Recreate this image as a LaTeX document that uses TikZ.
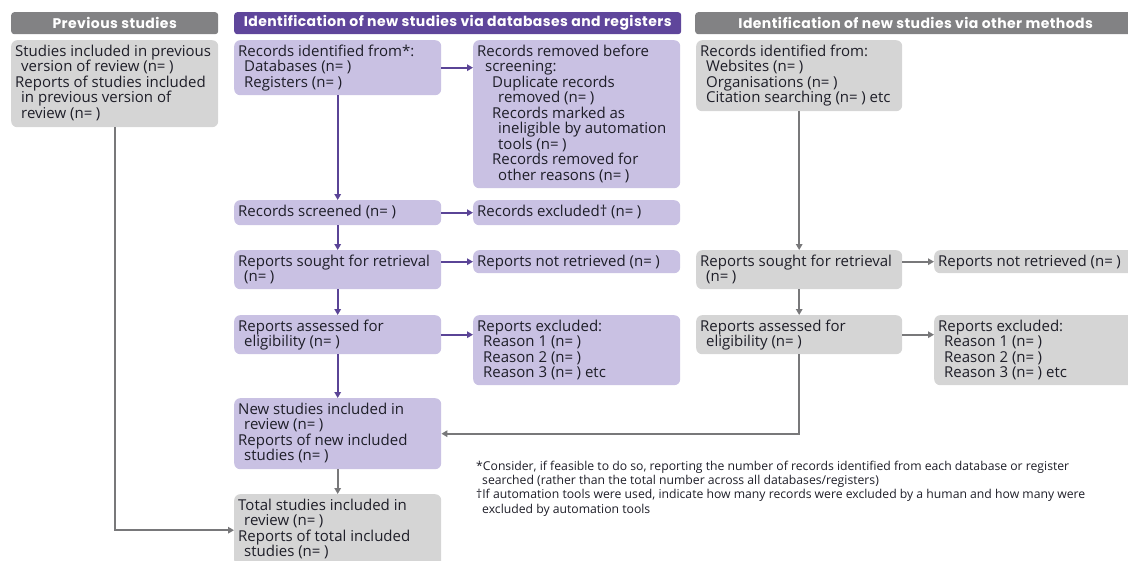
\documentclass[tikz,border=0pt]{standalone}
\usepackage{fontspec}
\setmainfont{Open Sans}
\newfontfamily\hdfont[LetterSpace=3]{Poppins}
\usetikzlibrary{arrows.meta}
\definecolor{headpurple}{RGB}{95,70,155}
\definecolor{headgray}{RGB}{130,130,132}
\definecolor{boxpurple}{RGB}{201,193,227}
\definecolor{boxgray}{RGB}{213,213,213}
\definecolor{txt}{RGB}{30,30,40}
\definecolor{arrpurple}{RGB}{90,68,150}
\definecolor{arrgray}{RGB}{120,120,122}
\newcommand\tb[3]{\parbox[t][#2pt][t]{#1pt}{\raggedright\fontsize{15}{15.5}\selectfont\vspace*{1.5pt}#3}}
\newcommand\ind[1]{\hspace*{#1pt}}
\newcommand\nn{(n=\hspace{3.5pt})}
\tikzset{
  pbox/.style={fill=boxpurple, rounded corners=6pt, inner xsep=4pt, inner ysep=3pt, anchor=north west, text=txt},
  gbox/.style={fill=boxgray, rounded corners=6pt, inner xsep=4pt, inner ysep=3pt, anchor=north west, text=txt},
  headp/.style={fill=headpurple, rounded corners=3pt, minimum height=22pt, anchor=north west, text=white, inner sep=0pt, font=\hdfont\bfseries\fontsize{14}{15}\selectfont},
  headg/.style={headp, fill=headgray},
  parr/.style={draw=arrpurple, line width=1.6pt, -{Triangle[length=6pt,width=6.5pt]}},
  garr/.style={draw=arrgray, line width=1.6pt, -{Triangle[length=6pt,width=6.5pt]}},
}
\begin{document}
\begin{tikzpicture}[x=1pt,y=-1pt]
\useasboundingbox (0,0) rectangle (1128,560);
\clip (0,0) rectangle (1128,560);
% headers
\node[headg, minimum width=207pt] (hprev) at (11,12) {Previous studies};
\node[headp, minimum width=447pt] (hdb) at (234,12) {Identification of new studies via databases and registers};
\node[headg, minimum width=445pt] (hoth) at (695,12) {\hspace*{-4pt}Identification of new studies via other methods};
% previous studies
\node[gbox] (prev) at (11,40) {\tb{199}{81}{Studies included in previous\\\ind{6}version of review \nn\\Reports of studies included\\\ind{6}in previous version of\\\ind{6}review \nn}};
% database column
\node[pbox] (rid) at (234,40) {\tb{199}{49}{Records identified from*:\\\ind{6}Databases \nn\\\ind{6}Registers \nn}};
\node[pbox] (rrem) at (473,40) {\tb{199}{142}{Records removed before\\\ind{8}screening:\\\ind{15}Duplicate records\\\ind{21}removed \nn\\\ind{15}Records marked as\\\ind{21}ineligible by automation\\\ind{21}tools \nn\\\ind{15}Records removed for\\\ind{21}other reasons \nn}};
\node[pbox] (rscr) at (234,200) {\tb{199}{19}{Records screened \nn}};
\node[pbox] (rexc) at (473,200) {\tb{199}{19}{Records excluded\textdagger\ \nn}};
\node[pbox] (rsou) at (234,250) {\tb{199}{33}{Reports sought for retrieval\\\ind{6}\nn}};
\node[pbox] (rnr) at (473,250) {\tb{199}{17}{Reports not retrieved \nn}};
\node[pbox] (rass) at (234,315) {\tb{199}{33}{Reports assessed for\\\ind{6}eligibility \nn}};
\node[pbox] (rexl) at (473,315) {\tb{199}{64}{Reports excluded:\\\ind{6}Reason 1 \nn\\\ind{6}Reason 2 \nn\\\ind{6}Reason 3 \nn{} etc}};
\node[pbox] (rnew) at (234,398) {\tb{199}{65}{New studies included in\\\ind{6}review \nn\\Reports of new included\\\ind{6}studies \nn}};
\node[gbox] (tot) at (234,494) {\tb{199}{66}{Total studies included in\\\ind{6}review \nn\\Reports of total included\\\ind{6}studies \nn}};
% other methods column
\node[gbox] (oid) at (696,40) {\tb{198}{65}{Records identified from:\\\ind{6}Websites \nn\\\ind{6}Organisations \nn\\\ind{6}Citation searching \nn{} etc}};
\node[gbox] (osou) at (696,250) {\tb{198}{33}{Reports sought for retrieval\\\ind{6}\nn}};
\node[gbox] (onr) at (934,250) {\tb{230}{17}{Reports not retrieved \nn}};
\node[gbox] (oass) at (696,315) {\tb{198}{33}{Reports assessed for\\\ind{6}eligibility \nn}};
\node[gbox] (oexl) at (934,315) {\tb{230}{64}{Reports excluded:\\\ind{6}Reason 1 \nn\\\ind{6}Reason 2 \nn\\\ind{6}Reason 3 \nn{} etc}};
% footnotes
\node[anchor=north west, inner sep=0pt, text=txt] (fn) at (476,461) {\parbox[t]{760pt}{\fontsize{12.2}{14.2}\selectfont
*Consider, if feasible to do so, reporting the number of records identified from each database or register\\
\ind{6}searched (rather than the total number across all databases/registers)\\
\textdagger If automation tools were used, indicate how many records were excluded by a human and how many were\\
\ind{6}excluded by automation tools}};
% connectors: database column
\draw[parr] (rid.south) -- (rscr.north);
\draw[parr] (rid.east) -- (rid.east -| rrem.west);
\draw[parr] (rscr.east) -- (rexc.west);
\draw[parr] (rscr.south) -- (rsou.north);
\draw[parr] (rnr.west -| rsou.east) -- (rnr.west);
\draw[parr] (rsou.south) -- (rass.north);
\draw[parr] (rass.east) -- (rass.east -| rexl.west);
\draw[parr] (rass.south) -- (rnew.north);
\draw[garr] (rnew.south) -- (tot.north);
% previous studies
\draw[garr] (prev.south) |- (tot.west);
% other methods
\draw[garr] (oid.south) -- (osou.north);
\draw[garr] (onr.west -| osou.east) -- (onr.west);
\draw[garr] (osou.south) -- (oass.north);
\draw[garr] (oass.east) -- (oass.east -| oexl.west);
\draw[garr] (oass.south) |- (rnew.east);
\end{tikzpicture}
\end{document}
